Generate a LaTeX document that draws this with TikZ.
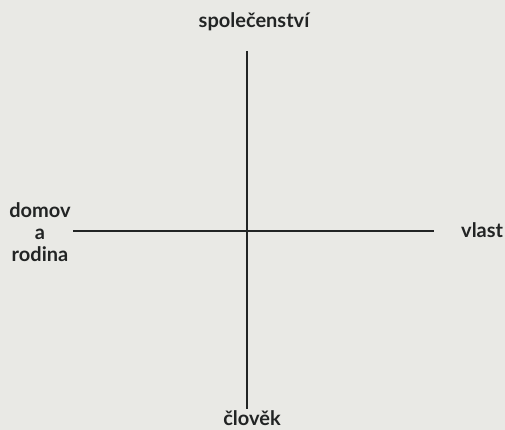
\documentclass[tikz,border=0pt]{standalone}
\usepackage{fontspec}
\setmainfont{Lato}
\usetikzlibrary{positioning}
\definecolor{paper}{RGB}{233,233,229}
\definecolor{ink}{RGB}{34,36,36}

\begin{document}
\begin{tikzpicture}[x=1pt,y=-1pt,
    axis/.style={draw=ink,line width=1.6pt},
    word/.style={text=ink,font=\fontsize{20}{22}\selectfont\bfseries,align=center,inner sep=0pt}]
  \fill[paper] (0,0) rectangle (505,430);
  \useasboundingbox (0,0) rectangle (505,430);
  % axis ends
  \coordinate (top) at (247,51);
  \coordinate (bot) at (247,409);
  \coordinate (lft) at (73,231);
  \coordinate (rgt) at (434,231);
  \draw[axis] (top) -- (bot);
  \draw[axis] (lft) -- (rgt);
  % labels
  \node[word,anchor=base] (spol) at (254,28) {společenství};
  \node[word] (domov) at (40,232) {domov\\a\\rodina};
  \node[word,anchor=base west] (vlast) at (461,237) {vlast};
  \node[word,anchor=base] (clovek) at (252,425) {člověk};
\end{tikzpicture}
\end{document}
